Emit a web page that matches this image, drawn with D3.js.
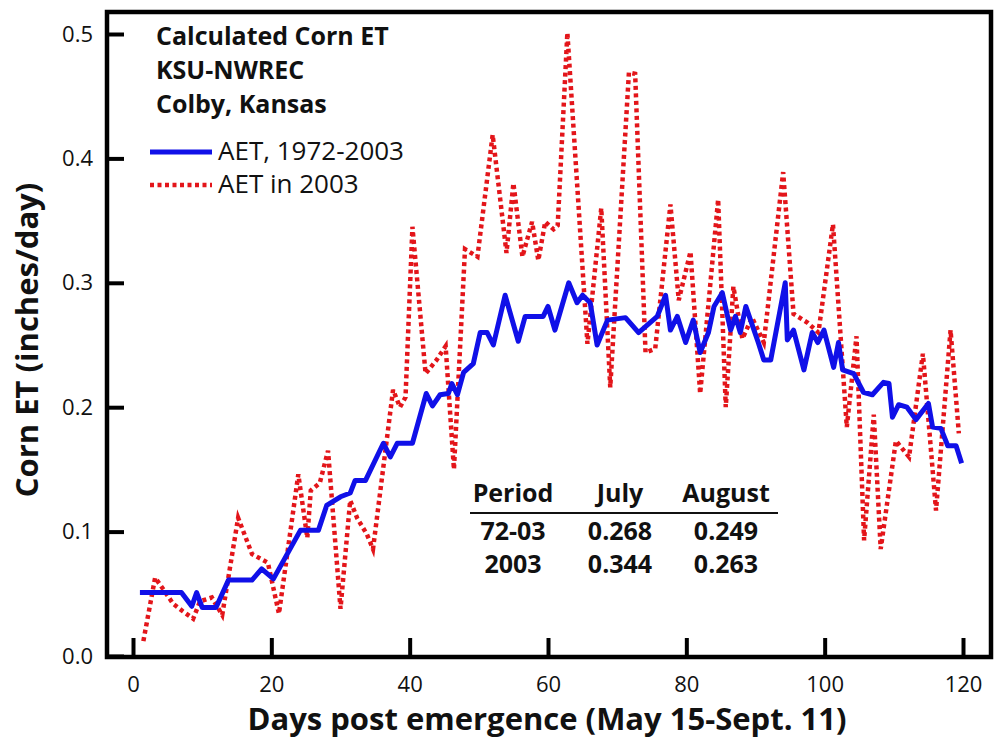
<!DOCTYPE html>
<html>
<head>
<meta charset="utf-8">
<script src="https://cdn.jsdelivr.net/npm/d3@7"></script>
<style>
  body { margin: 0; background: #fff; }
  #chart { width: 997px; height: 744px; }
  text { font-family: "Open Sans", sans-serif; fill: #111; }
</style>
</head>
<body>
<div id="chart"></div>
<script>
// Average AET 1972-2003 (blue) - vertices
let avgDays = [1, 7, 8.5, 9.2, 10, 12, 13.8, 17.2, 18.6, 20.3, 24.2, 26.8, 28, 30, 31.4, 32.1, 33.6, 36.2, 37.2, 38.2,
  40.4, 42.4, 43.3, 44.4, 45.6, 46.1, 46.9, 47.8, 49.2, 50.2, 51.2, 52.1, 53.8, 55.7, 56.7, 59.3, 60, 61, 63, 64.2,
  65, 66.1, 67.1, 68.6, 71.2, 73.1, 75.8, 77, 77.7, 78.7, 79.9, 81, 82, 83.2, 84, 85.2, 86.4, 87.1, 87.8, 88.6,
  90.4, 91.2, 92.2, 94.3, 94.6, 95.5, 97, 98.2, 99, 99.9, 101.3, 102, 102.6, 104.2, 105.6, 106.9, 108.5, 109.3, 109.8, 110.7,
  111.9, 113.2, 115, 115.6, 116.8, 117.8, 119, 119.8];
let avgET = [0.051, 0.051, 0.040, 0.051, 0.039, 0.039, 0.061, 0.061, 0.070, 0.062, 0.101, 0.101, 0.121, 0.128, 0.131, 0.141, 0.141, 0.171, 0.160, 0.171,
  0.171, 0.211, 0.201, 0.210, 0.211, 0.219, 0.210, 0.228, 0.235, 0.260, 0.260, 0.250, 0.290, 0.253, 0.273, 0.273, 0.281, 0.262, 0.300, 0.284,
  0.290, 0.284, 0.250, 0.270, 0.272, 0.260, 0.273, 0.290, 0.262, 0.273, 0.252, 0.270, 0.244, 0.260, 0.281, 0.292, 0.262, 0.273, 0.260, 0.281,
  0.252, 0.238, 0.238, 0.300, 0.254, 0.262, 0.230, 0.260, 0.252, 0.262, 0.232, 0.252, 0.230, 0.227, 0.212, 0.210, 0.220, 0.219, 0.192, 0.202,
  0.200, 0.190, 0.203, 0.184, 0.183, 0.169, 0.169, 0.155];

// AET in 2003 (red dotted)
let yrDays = [1.5, 3.2, 4.2, 5.8, 7.2, 8.7, 9.7, 11.4, 12.9, 15.2, 17.2, 19.5, 21.1, 23.9, 25.2, 25.7, 27, 28.2, 30, 31.4,
  32.4, 33.8, 34.7, 37.6, 38.6, 39.4, 40.4, 42.3, 43.9, 45.2, 46.4, 48, 49.8, 52, 54, 55, 56.3, 57.7, 58.6, 59.6,
  60.8, 61.4, 62.8, 65.7, 67.7, 69, 71.7, 72.6, 74.1, 75.5, 77.7, 78.9, 80.6, 82, 84.6, 85.7, 86.8, 88.1, 89.5, 91.2,
  94, 95.5, 97.5, 99.1, 101.2, 103.2, 104.6, 105.7, 107.1, 108.1, 110.3, 112.2, 114.2, 116.1, 118.2, 119.4];
let yrET = [0.012, 0.063, 0.055, 0.042, 0.036, 0.030, 0.044, 0.047, 0.033, 0.111, 0.082, 0.075, 0.034, 0.146, 0.095, 0.133, 0.139, 0.165, 0.038, 0.125,
  0.111, 0.098, 0.086, 0.214, 0.200, 0.208, 0.345, 0.227, 0.238, 0.249, 0.150, 0.327, 0.321, 0.419, 0.324, 0.380, 0.321, 0.349, 0.318, 0.349,
  0.343, 0.346, 0.501, 0.251, 0.360, 0.216, 0.469, 0.468, 0.244, 0.247, 0.363, 0.286, 0.325, 0.211, 0.367, 0.200, 0.297, 0.255, 0.272, 0.252,
  0.389, 0.275, 0.268, 0.260, 0.347, 0.184, 0.257, 0.093, 0.194, 0.086, 0.173, 0.160, 0.243, 0.117, 0.262, 0.179];

let xTicks = [0, 20, 40, 60, 80, 100, 120];
let yTicks = [0.0, 0.1, 0.2, 0.3, 0.4, 0.5];
let titleLines = ["Calculated Corn ET", "KSU-NWREC", "Colby, Kansas"];
let legendLabels = ["AET, 1972-2003", "AET in 2003"];
let tableHeader = ["Period", "July", "August"];
let tableRows = [["72-03", "0.268", "0.249"], ["2003", "0.344", "0.263"]];

let blue = "#1010e8", red = "#e3151a";

let svg = d3.select("#chart").append("svg")
    .attr("width", 997)
    .attr("height", 744);

// frame edges
let frameL = 107, frameR = 991, frameT = 12, frameB = 657;

let xScale = d3.scaleLinear().domain([0, 120]).range([133, 963]);
let yScale = d3.scaleLinear().domain([0, 0.5]).range([656, 34]);

// Y axis, ticks pointing inward
let yAxis = svg.append("g")
    .attr("transform", "translate(" + frameL + ",0)")
    .call(d3.axisLeft(yScale).tickValues(yTicks).tickSize(-17).tickPadding(14).tickFormat(d3.format(".1f")));
yAxis.select(".domain").remove();
yAxis.selectAll("line").attr("stroke", "#000").attr("stroke-width", 4);
yAxis.selectAll("text").style("font-size", "22px").attr("fill", "#111");

// X axis
let xAxis = svg.append("g")
    .attr("transform", "translate(0," + frameB + ")")
    .call(d3.axisBottom(xScale).tickValues(xTicks).tickSize(-19).tickPadding(12));
xAxis.select(".domain").remove();
xAxis.selectAll("line").attr("stroke", "#000").attr("stroke-width", 4);
xAxis.selectAll("text").style("font-size", "22px").attr("fill", "#111").attr("dy", "1.05em");

// frame box
svg.append("rect")
    .attr("x", frameL).attr("y", frameT)
    .attr("width", frameR - frameL).attr("height", frameB - frameT)
    .attr("fill", "none").attr("stroke", "#000").attr("stroke-width", 4.5);

// axis labels
svg.append("text")
    .attr("x", 547).attr("y", 730)
    .attr("text-anchor", "middle")
    .style("font-size", "31px").style("font-weight", "bold")
    .text("Days post emergence (May 15-Sept. 11)");

svg.append("text")
    .attr("transform", "translate(38,340) rotate(-90)")
    .attr("text-anchor", "middle")
    .style("font-size", "31px").style("font-weight", "bold")
    .text("Corn ET (inches/day)");

let line = d3.line()
    .x(d => xScale(d[0]))
    .y(d => yScale(d[1]));

svg.append("path")
    .datum(d3.zip(yrDays, yrET))
    .attr("fill", "none")
    .attr("stroke", red)
    .attr("stroke-width", 4.5)
    .attr("stroke-dasharray", "4,3.5")
    .attr("d", line);

svg.append("path")
    .datum(d3.zip(avgDays, avgET))
    .attr("fill", "none")
    .attr("stroke", blue)
    .attr("stroke-width", 5)
    .attr("stroke-linejoin", "round")
    .attr("d", line);

// title block
titleLines.forEach((t, i) => {
    svg.append("text")
        .attr("x", 156).attr("y", 45 + i * 34)
        .style("font-size", "25px").style("font-weight", "bold")
        .text(t);
});

// legend
[blue, red].forEach((c, i) => {
    let ly = 152 + i * 33;
    svg.append("line")
        .attr("x1", 150).attr("x2", 212)
        .attr("y1", ly).attr("y2", ly)
        .attr("stroke", c)
        .attr("stroke-width", i == 0 ? 5 : 4.5)
        .attr("stroke-dasharray", i == 0 ? null : "4,3.5");
    svg.append("text")
        .attr("x", 218).attr("y", ly + 8)
        .style("font-size", "26px")
        .text(legendLabels[i]);
});

// small table
let colX = [513, 620, 726];
tableHeader.forEach((h, i) => {
    svg.append("text")
        .attr("x", colX[i]).attr("y", 502)
        .attr("text-anchor", "middle")
        .style("font-size", "25px").style("font-weight", "bold")
        .text(h);
});
svg.append("line")
    .attr("x1", 470).attr("x2", 778)
    .attr("y1", 513).attr("y2", 513)
    .attr("stroke", "#111").attr("stroke-width", 2);
tableRows.forEach((row, r) => {
    row.forEach((v, i) => {
        svg.append("text")
            .attr("x", colX[i]).attr("y", 540 + r * 33)
            .attr("text-anchor", "middle")
            .style("font-size", "25px").style("font-weight", "bold")
            .text(v);
    });
});
</script>
</body>
</html>
